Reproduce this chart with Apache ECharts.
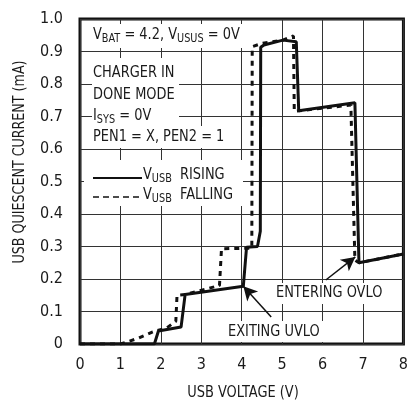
<!DOCTYPE html>
<html>
<head>
<meta charset="utf-8">
<script src="https://cdn.jsdelivr.net/npm/echarts@6/dist/echarts.min.js"></script>
<style>
  html, body { margin: 0; padding: 0; background: #fff; }
  #chart { width: 411px; height: 402px; }
</style>
</head>
<body>
<div id="chart"></div>
<script>
// USB quiescent current vs. USB voltage, rising and falling sweeps
const risingV = [0, 1.84, 1.94, 2.5, 2.6, 4.04, 4.12, 4.39, 4.46, 4.47, 4.55, 5.02, 5.35, 5.41, 6.80, 6.90, 8];
const risingI = [0, 0, 0.04, 0.052, 0.152, 0.178, 0.298, 0.30, 0.347, 0.913, 0.92, 0.935, 0.930, 0.718, 0.742, 0.250, 0.277];

const fallingV = [0, 1.0, 1.45, 1.8, 2.15, 2.37, 2.40, 2.6, 3.45, 3.50, 4.25, 4.26, 4.5, 5.02, 5.28, 5.30, 6.70, 6.80, 6.90, 8];
const fallingI = [0, 0, 0.018, 0.037, 0.05, 0.07, 0.15, 0.152, 0.18, 0.293, 0.295, 0.915, 0.925, 0.935, 0.948, 0.716, 0.735, 0.258, 0.25, 0.277];

const xTicks = [0, 1, 2, 3, 4, 5, 6, 7, 8];
const yTicks = ['0', '0.1', '0.2', '0.3', '0.4', '0.5', '0.6', '0.7', '0.8', '0.9', '1.0'];

// Arrow annotations: [tail, head] in data units
const uvloArrow = [[4.73, 0.083], [4.04, 0.178]];
const ovloArrow = [[6.08, 0.197], [6.81, 0.268]];

const FONT = '"Liberation Sans Narrow", "DejaVu Sans Condensed", "Liberation Sans", sans-serif';
const INK = '#1a1a1a';
const NARROW = 0.9;

const pairs = (xs, ys) => xs.map((x, i) => [x, ys[i]]);

const rich = {
  n: { fontFamily: FONT, fontSize: 16, color: INK },
  s: { fontFamily: FONT, fontSize: 12, color: INK, padding: [7, 0, 0, 0] }
};

function label(x, y, text, opts) {
  return Object.assign({
    type: 'text', x: x, y: y, z: 20, scaleX: NARROW,
    style: { text: text, fontFamily: FONT, fontSize: 16, fill: INK,
             align: 'left', verticalAlign: 'middle', rich: rich }
  }, opts || {});
}
function mask(x, y, w, h) {
  return { type: 'rect', z: 15, shape: { x: x, y: y, width: w, height: h },
           style: { fill: '#fff' } };
}

const chart = echarts.init(document.getElementById('chart'), null, { renderer: 'canvas' });

chart.setOption({
  animation: false,
  backgroundColor: '#fff',
  grid: { left: 80, right: 4, top: 19, bottom: 58, show: true,
          borderColor: '#111', borderWidth: 3, backgroundColor: 'transparent' },
  xAxis: {
    type: 'value', min: 0, max: 8, interval: 1,
    axisLine: { show: false }, axisTick: { show: false },
    splitLine: { show: true, lineStyle: { color: '#333', width: 1 } },
    axisLabel: { margin: 13, fontFamily: FONT, fontSize: 16, color: INK,
                 formatter: v => String(xTicks[Math.round(v)]) }
  },
  yAxis: {
    type: 'value', min: 0, max: 1, interval: 0.1,
    axisLine: { show: false }, axisTick: { show: false },
    splitLine: { show: true, lineStyle: { color: '#333', width: 1 } },
    axisLabel: { margin: 17, fontFamily: FONT, fontSize: 16, color: INK,
                 formatter: v => yTicks[Math.round(v * 10)] }
  },
  series: [
    {
      name: 'VUSB FALLING', type: 'line', data: pairs(fallingV, fallingI),
      showSymbol: false, z: 3,
      lineStyle: { color: '#111', width: 3, type: [5, 5] }
    },
    {
      name: 'VUSB RISING', type: 'line', data: pairs(risingV, risingI),
      showSymbol: false, z: 4,
      lineStyle: { color: '#111', width: 3 },
      markLine: {
        silent: true, symbol: ['none', 'arrow'], symbolSize: [11, 14],
        label: { show: false },
        lineStyle: { color: '#111', width: 1.5, type: 'solid' },
        data: [
          [{ coord: uvloArrow[0] }, { coord: uvloArrow[1] }],
          [{ coord: ovloArrow[0] }, { coord: ovloArrow[1] }]
        ]
      }
    }
  ],
  graphic: [
    // text panels
    mask(82, 24, 162, 24),
    mask(92, 58, 87, 68),
    mask(92, 126, 131, 22),
    mask(84, 160, 159, 46),
    mask(226, 321, 98, 21),
    mask(274, 283, 111, 21),

    label(93, 35, '{n|V}{s|BAT}{n| = 4.2, V}{s|USUS}{n| = 0V}'),
    label(93, 73, 'CHARGER IN'),
    label(93, 95, 'DONE MODE'),
    label(93, 116, '{n|I}{s|SYS}{n| = 0V}'),
    label(93, 137, 'PEN1 = X, PEN2 = 1'),

    // legend
    { type: 'line', z: 20, shape: { x1: 93, y1: 178, x2: 142, y2: 178 },
      style: { stroke: '#111', lineWidth: 2 } },
    { type: 'line', z: 20, shape: { x1: 93, y1: 197, x2: 142, y2: 197 },
      style: { stroke: '#111', lineWidth: 1.5, lineDash: [6, 4] } },
    label(143, 175, '{n|V}{s|USB}{n|  RISING}'),
    label(143, 195, '{n|V}{s|USB}{n|  FALLING}'),

    // annotations
    label(228, 332, 'EXITING UVLO'),
    label(276, 293, 'ENTERING OVLO'),

    // axis titles
    { type: 'text', x: 20, y: 162, rotation: Math.PI / 2, z: 20, scaleX: 0.88,
      style: { text: 'USB QUIESCENT CURRENT (mA)', fontFamily: FONT, fontSize: 16,
               fill: INK, align: 'center', verticalAlign: 'middle' } },
    { type: 'text', x: 243, y: 393, z: 20, scaleX: NARROW,
      style: { text: 'USB VOLTAGE (V)', fontFamily: FONT, fontSize: 16,
               fill: INK, align: 'center', verticalAlign: 'middle' } }
  ]
});
</script>
</body>
</html>
